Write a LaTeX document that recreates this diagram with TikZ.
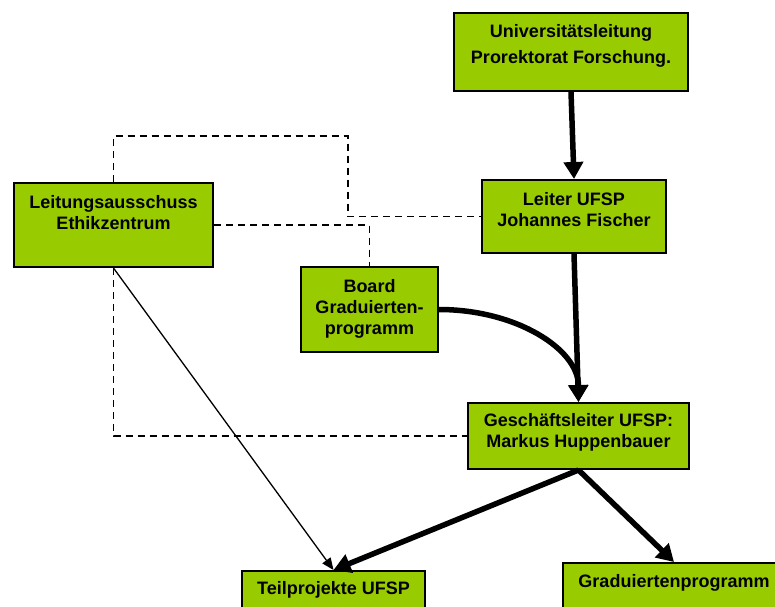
\documentclass[tikz,border=0pt]{standalone}
\usepackage{fontspec}
\setmainfont{Liberation Sans}
\usetikzlibrary{arrows.meta}
\definecolor{boxgreen}{RGB}{153,204,0}
\tikzset{
  unitbox/.style={draw=black, line width=2pt, fill=boxgreen, align=center, inner sep=0pt,
    font=\fontsize{18}{21}\selectfont\bfseries},
  lead/.style={line width=5.5pt, -{Triangle[length=17pt,width=19pt]}},
  thinlead/.style={line width=1.3pt, -{Triangle[length=12pt,width=10pt]}},
  assoc/.style={line width=1.6pt, dash pattern=on 7pt off 5pt},
}
\begin{document}
\begin{tikzpicture}[x=1pt,y=-1pt]
    \useasboundingbox (0,0) rectangle (775,606);
    \clip (0,0) rectangle (775,606);
    % organisation chart UFSP
    \node[unitbox, minimum width=234pt, minimum height=78pt, text depth=17pt] (uni) at (571,52)
        {Universitätsleitung\\[5pt]Prorektorat Forschung.};
    \node[unitbox, minimum width=199pt, minimum height=84pt, text depth=26pt] (leitung) at (113.5,225)
        {Leitungsausschuss\\Ethikzentrum};
    \node[unitbox, minimum width=184pt, minimum height=73pt, text depth=15pt] (leiter) at (574,216.5)
        {Leiter UFSP\\Johannes Fischer};
    \node[unitbox, minimum width=137pt, minimum height=85pt, text depth=5pt] (board) at (369.5,309.5)
        {Board\\Graduierten-\\programm};
    \node[unitbox, minimum width=221pt, minimum height=66pt, text depth=12pt] (gl) at (578.5,436)
        {Geschäftsleiter UFSP:\\Markus Huppenbauer};
    \node[unitbox, minimum width=183pt, minimum height=60pt, text depth=27pt] (teilprojekte) at (333.5,601)
        {Teilprojekte UFSP};
    \node[unitbox, minimum width=222pt, minimum height=60pt, text depth=25pt] (gradprog) at (674,593)
        {Graduiertenprogramm};

    \coordinate (bendA) at (348,136);
    \draw[assoc] (leitung.north) |- (bendA) |- (leiter.west);
    \draw[assoc] (leitung.east) -| (board.north);
    \draw[assoc] (leitung.south) |- (gl.west);

    \draw[lead] (uni.south) -- (leiter.north);
    \draw[lead] (leiter.south) -- (gl.north);
    \draw[lead] (board.east) .. controls +(77,0) and +(0,-53) .. (gl.north);
    \draw[lead] (gl.south) -- (teilprojekte.north);
    \draw[lead] (gl.south) -- (gradprog.north);
    \draw[thinlead] (leitung.south) -- (teilprojekte.north);
\end{tikzpicture}
\end{document}
